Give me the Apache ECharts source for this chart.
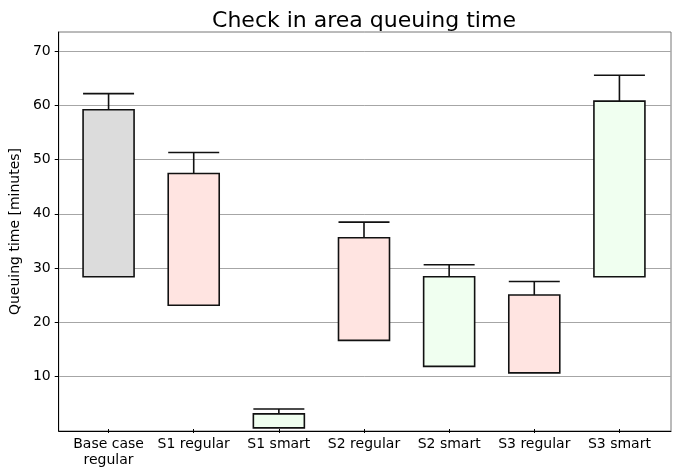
<!DOCTYPE html>
<html>
<head>
<meta charset="utf-8">
<script src="https://cdn.jsdelivr.net/npm/echarts@6/dist/echarts.min.js"></script>
<style>
  html, body { margin: 0; padding: 0; background: #fff; }
  #chart { width: 678px; height: 468px; }
</style>
</head>
<body>
<div id="chart"></div>
<script>
var categories = ['Base case\nregular', 'S1 regular', 'S1 smart', 'S2 regular', 'S2 smart', 'S3 regular', 'S3 smart'];
// box bottom, box top, upper whisker (minutes)
var q1 = [28.2, 22.9, 0.2, 16.4, 11.6, 10.4, 28.2];
var q3 = [59.1, 47.3, 2.8, 35.4, 28.2, 24.8, 60.7];
var upper = [62.1, 51.2, 3.7, 38.3, 30.4, 27.3, 65.5];
var boxColors = ['#dcdcdc', '#ffe4e1', '#f0fff0', '#ffe4e1', '#f0fff0', '#ffe4e1', '#f0fff0'];
var yTicks = [10, 20, 30, 40, 50, 60, 70];

var font = 'DejaVu Sans';
var chart = echarts.init(document.getElementById('chart'));

var boxData = categories.map(function (c, i) {
  return {
    value: [q1[i], q1[i], q1[i], q3[i], upper[i]],
    itemStyle: { color: boxColors[i] }
  };
});

var option = {
  animation: false,
  backgroundColor: '#ffffff',
  title: {
    text: 'Check in area queuing time',
    left: 359,
    textAlign: 'center',
    top: 5,
    textStyle: { fontFamily: font, fontSize: 22, fontWeight: 'normal', color: '#000' }
  },
  grid: [
    // frame, y axis and grid lines
    { left: 57, right: 7, top: 32, bottom: 37, show: true, borderColor: '#777', borderWidth: 1 },
    // the boxes
    { left: 66, width: 596, top: 32, bottom: 37 }
  ],
  xAxis: [
    {
      gridIndex: 0, type: 'category', data: categories,
      axisLine: { lineStyle: { color: '#000', width: 1 } },
      axisTick: { show: false }, axisLabel: { show: false }, splitLine: { show: false }
    },
    {
      gridIndex: 1, type: 'category', data: categories,
      axisLine: { show: false },
      axisTick: { show: true, alignWithLabel: true, length: 4, lineStyle: { color: '#000' } },
      axisLabel: { interval: 0, fontFamily: font, fontSize: 14, color: '#000', margin: 7, lineHeight: 16 },
      splitLine: { show: false }
    }
  ],
  yAxis: [
    {
      gridIndex: 0, type: 'value', min: 0, max: 73.5, interval: 10,
      name: 'Queuing time [minutes]', nameLocation: 'middle', nameGap: 28,
      nameTextStyle: { fontFamily: font, fontSize: 14, color: '#000' },
      axisLine: { show: true, lineStyle: { color: '#000' } },
      axisTick: { show: true, length: 4, lineStyle: { color: '#000' },
        customValues: yTicks },
      axisLabel: {
        fontFamily: font, fontSize: 14, color: '#000', margin: 8,
        customValues: yTicks,
        formatter: function (v) { return yTicks.indexOf(v) >= 0 ? String(v) : ''; }
      },
      splitLine: { show: true, lineStyle: { color: '#a6a6a6', width: 1 } }
    },
    {
      gridIndex: 1, type: 'value', min: 0, max: 73.5,
      axisLine: { show: false }, axisTick: { show: false },
      axisLabel: { show: false }, splitLine: { show: false }
    }
  ],
  series: [{
    type: 'boxplot',
    xAxisIndex: 1,
    yAxisIndex: 1,
    boxWidth: [51, 51],
    itemStyle: { borderColor: '#111', borderWidth: 1.6 },
    data: boxData
  }]
};
chart.setOption(option);
</script>
</body>
</html>
